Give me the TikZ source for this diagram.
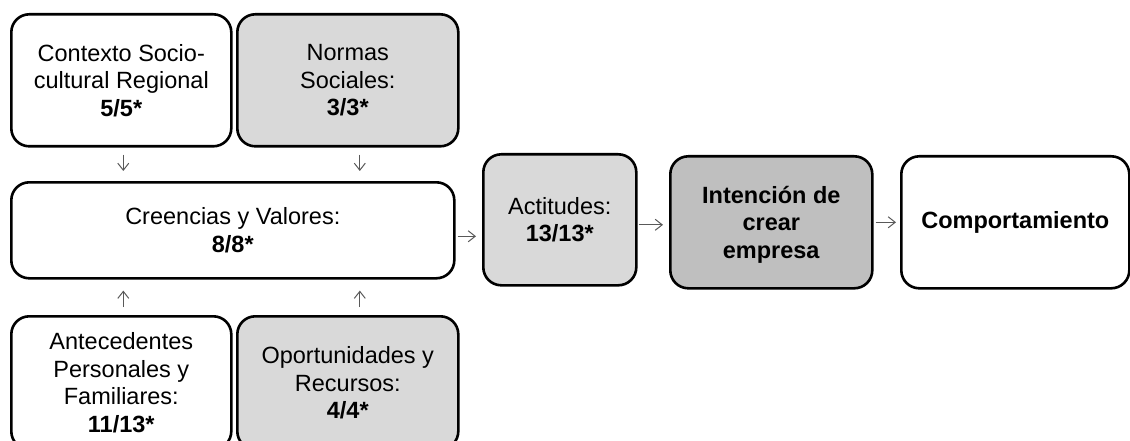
\documentclass[tikz,border=0pt]{standalone}
\usepackage{fontspec}
\setmainfont{Liberation Sans}
\usetikzlibrary{arrows.meta,calc}
\definecolor{lgray}{HTML}{D9D9D9}
\definecolor{dgray}{HTML}{BFBFBF}
\begin{document}
\begin{tikzpicture}[x=1pt,y=-1pt,
  box/.style={draw=black, line width=2.6pt, rounded corners=18pt, align=center,
    font=\fontsize{23.5}{27.5}\selectfont, inner sep=0pt, anchor=north west},
  arr/.style={draw=black!65, line width=1.1pt, -{Straight Barb[length=7pt,width=11pt,line width=1pt]}}]
\useasboundingbox (0,0) rectangle (1130,441);
\node[box, fill=white, minimum width=220pt, minimum height=132pt] (ctx) at (10,13)
  {Contexto Socio-\\cultural Regional\\\textbf{5/5*}};
\node[box, fill=lgray, minimum width=221pt, minimum height=132pt] (nor) at (236,13)
  {Normas\\Sociales:\\\textbf{3/3*}};
\node[box, fill=white, minimum width=443pt, minimum height=96pt] (cre) at (10,181)
  {\raisebox{0pt}[\height][\depth]{Creencias y Valores:}\\\textbf{8/8*}};
\node[box, fill=white, minimum width=220pt, minimum height=133pt] (ant) at (10,315)
  {Antecedentes\\Personales y\\Familiares:\\\textbf{11/13*}};
\node[box, fill=lgray, minimum width=221pt, minimum height=133pt] (opo) at (236,315)
  {Oportunidades y\\Recursos:\\\textbf{4/4*}};
\node[box, fill=lgray, minimum width=153pt, minimum height=131pt] (act) at (482,153)
  {Actitudes:\\\textbf{13/13*}};
\node[box, fill=dgray, minimum width=202pt, minimum height=132pt, text depth=-4pt] (int) at (669,155)
  {\textbf{Intención de}\\\textbf{crear}\\\textbf{empresa}};
\node[box, fill=white, minimum width=228pt, minimum height=132pt] (com) at (900,155)
  {\textbf{Comportamiento}};
% down arrows
\draw[arr, shorten <=7pt, shorten >=10pt] ([xshift=2pt]ctx.south) -- ([xshift=2pt]ctx.south |- cre.north);
\draw[arr, shorten <=7pt, shorten >=10pt] ([xshift=12pt]nor.south) -- ([xshift=12pt]nor.south |- cre.north);
% up arrows
\draw[arr, shorten <=8pt, shorten >=11pt] ([xshift=2pt]ant.north) -- ([xshift=2pt]ant.north |- cre.south);
\draw[arr, shorten <=8pt, shorten >=11pt] ([xshift=12pt]opo.north) -- ([xshift=12pt]opo.north |- cre.south);
% horizontal arrows
\draw[arr, shorten <=2pt, shorten >=6pt] ([yshift=-6pt]cre.east) -- ([yshift=-6pt]cre.east -| act.west);
\draw[arr, shorten <=1pt, shorten >=6pt] ([yshift=-5pt]act.east) -- ([yshift=-5pt]act.east -| int.west);
\draw[arr, shorten <=2pt, shorten >=4pt] (int.east) -- (int.east -| com.west);
\end{tikzpicture}
\end{document}
